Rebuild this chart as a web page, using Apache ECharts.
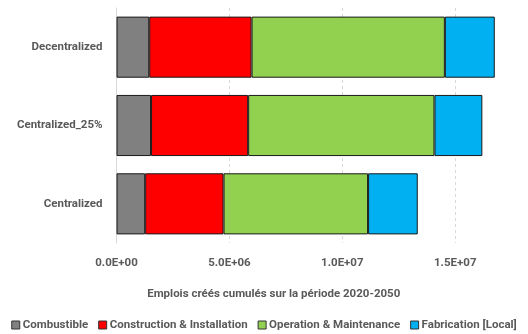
<!DOCTYPE html>
<html><head><meta charset="utf-8">
<script src="https://cdn.jsdelivr.net/npm/echarts@6/dist/echarts.min.js"></script>
<style>html,body{margin:0;padding:0;background:#fff}#c{width:528px;height:334px}</style>
</head><body><div id="c"></div>
<script>
const categories = ["Centralized", "Centralized_25%", "Decentralized"];
const seriesNames = ["Combustible", "Construction & Installation", "Operation & Maintenance", "Fabrication [Local]"];
const combustible = [1.27e6, 1.53e6, 1.45e6];
const construction = [3.47e6, 4.30e6, 4.53e6];
const operation = [6.40e6, 8.25e6, 8.56e6];
const fabrication = [2.20e6, 2.12e6, 2.21e6];
const colors = ["#808080", "#FF0000", "#92D050", "#00B0F0"];
const xTitle = "Emplois créés cumulés sur la période 2020-2050";

const font = "Roboto";
const fs = 11.5;
const chart = echarts.init(document.getElementById('c'), null, {renderer: 'canvas'});
const data = [combustible, construction, operation, fabrication];
chart.setOption({
  animation: false,
  grid: {left: 116.5, right: 5, top: 8, bottom: 91, containLabel: false},
  legend: {
    bottom: -2, left: 'center', itemWidth: 8, itemHeight: 8, itemGap: 10,
    icon: 'rect',
    textStyle: {fontFamily: font, fontWeight: 'bold', fontSize: fs, color: '#595959', padding: [0,0,0,-2]},
    data: seriesNames.map((n,i)=>({name:n, itemStyle:{color:colors[i], borderColor:'#333', borderWidth:1}}))
  },
  xAxis: {
    type: 'value', min: 0, max: 1.8e7, interval: 5e6,
    name: xTitle, nameLocation: 'middle', nameGap: 45,
    nameTextStyle: {fontFamily: font, fontWeight: 'bold', fontSize: fs, color: '#595959', padding: [0,0,0,-92]},
    axisLine: {show: false}, axisTick: {show: false},
    splitLine: {show: true, showMaxLine: false, lineStyle: {color: '#d9d9d9', type: [3,3], width: 1}},
    axisLabel: {fontFamily: font, fontWeight: 'bold', fontSize: fs, color: '#595959', margin: 14,
      showMaxLabel: false,
      formatter: v => v.toExponential(1).replace('e+', 'E+0').replace(/E\+0(\d\d)/, 'E+$1')}
  },
  yAxis: {
    type: 'category', data: categories,
    axisLine: {show: true, lineStyle: {color: '#d9d9d9', width: 1}},
    axisTick: {show: false},
    axisLabel: {fontFamily: font, fontWeight: 'bold', fontSize: fs, color: '#595959', margin: 14}
  },
  series: seriesNames.map((n,i)=>({
    name: n, type: 'bar', stack: 'total', data: data[i], barCategoryGap: '22%',
    itemStyle: {color: colors[i], borderColor: '#1a1a1a', borderWidth: 1}
  }))
});
</script></body></html>
